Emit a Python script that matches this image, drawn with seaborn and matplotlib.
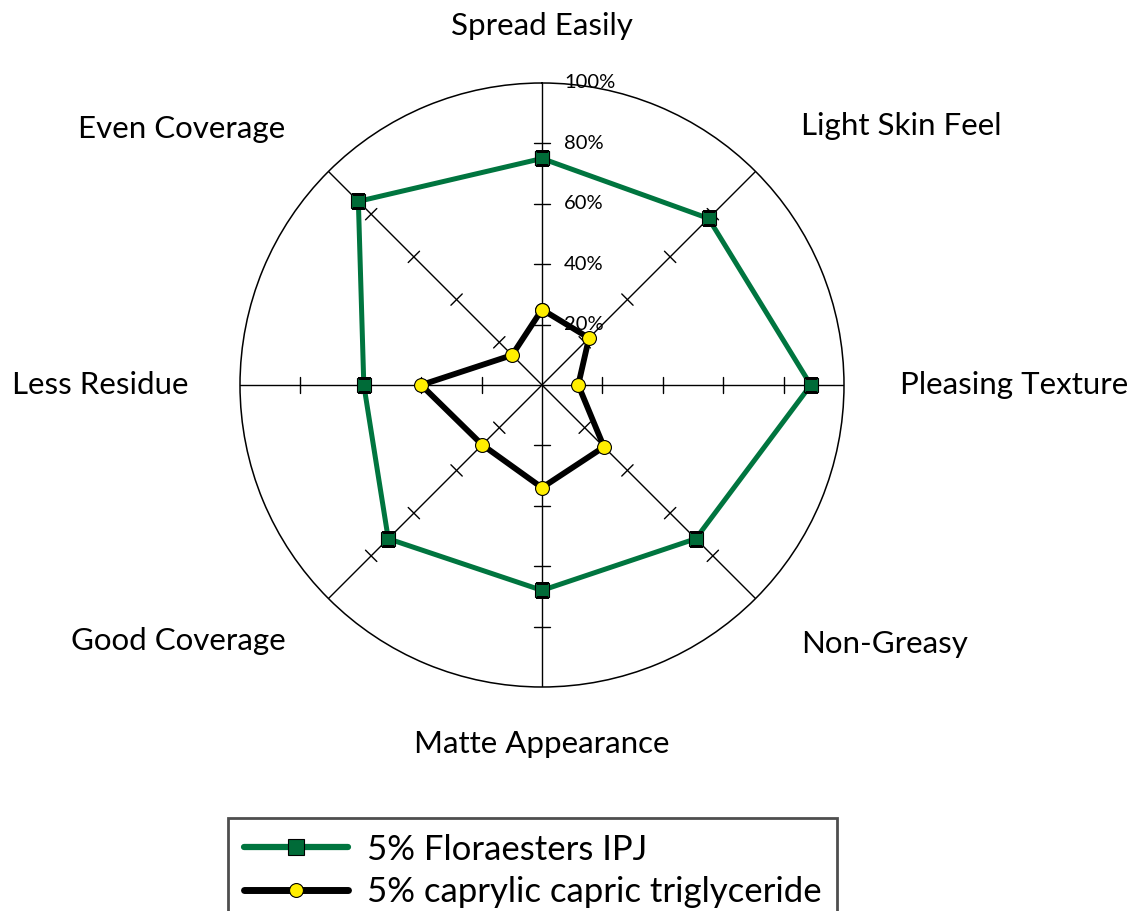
import numpy as np
import pandas as pd
import matplotlib
matplotlib.use("Agg")
import matplotlib.pyplot as plt
import seaborn as sns
from matplotlib.lines import Line2D

# data (percent)
attributes = ["Spread Easily", "Light Skin Feel", "Pleasing Texture", "Non-Greasy",
              "Matte Appearance", "Good Coverage", "Less Residue", "Even Coverage"]
floraesters = [75, 78, 89, 72, 68, 72, 59, 86]
caprylic = [25, 22, 12, 29, 34, 28, 40, 14]
tick_vals = [20, 40, 60, 80, 100]

series_names = ["5% Floraesters IPJ", "5% caprylic capric triglyceride"]
green = "#00753f"

sns.set_theme(style="white")
plt.rcParams["font.family"] = ["Lato", "DejaVu Sans"]
plt.rcParams["text.color"] = "black"

n = len(attributes)
angles = np.arange(n) * 2 * np.pi / n

def closed(vals):
    th = np.append(angles, 2 * np.pi)
    r = np.append(vals, vals[0]) / 100.0
    return pd.DataFrame({"theta": th, "r": r})

fig = plt.figure(figsize=(11.32, 9.11), dpi=100)
cx, cy = 542 / 1132, 1 - 385 / 911
rw, rh = 302 / 1132, 302 / 911
ax = fig.add_axes([cx - rw, cy - rh, 2 * rw, 2 * rh], projection="polar")
ax.set_theta_zero_location("N")
ax.set_theta_direction(-1)
ax.set_ylim(0, 1)
ax.grid(False)
ax.set_xticks([])
ax.set_yticks([])
ax.spines["polar"].set_color("black")
ax.spines["polar"].set_linewidth(1.1)

# spokes and tick marks
h = 8 / 302
for a in angles:
    ax.plot([a, a], [0, 1], color="black", lw=1, zorder=1)
    for t in tick_vals[:-1]:
        r = t / 100
        d = np.arctan(h / r)
        rr = np.hypot(r, h)
        ax.plot([a - d, a + d], [rr, rr], color="black", lw=1, zorder=1)

sns.lineplot(data=closed(floraesters), x="theta", y="r", sort=False, ax=ax,
             color=green, lw=3.6, marker="s", markersize=10,
             markerfacecolor="#006b38", markeredgecolor="black", markeredgewidth=0.8,
             zorder=3)
sns.lineplot(data=closed(caprylic), x="theta", y="r", sort=False, ax=ax,
             color="black", lw=4.2, marker="o", markersize=10,
             markerfacecolor="#ffee00", markeredgecolor="black", markeredgewidth=0.8,
             zorder=4)
ax.set_xlabel("")
ax.set_ylabel("")

# radial tick labels along the top spoke
for t in tick_vals:
    ax.annotate(f"{t}%", xy=(0, t / 100), xytext=(22, 0), textcoords="offset pixels",
                ha="left", va="center", fontsize=14.5, color="black", zorder=5,
                annotation_clip=False)

# category labels
for a, name in zip(angles, attributes):
    s, c = np.sin(a), np.cos(a)
    if abs(s) < 1e-6:
        ha, rad = "center", 1.19
    elif s > 0:
        ha = "left"
        rad = 1.185 if abs(c) < 1e-6 else 1.215
    else:
        ha = "right"
        rad = 1.17 if abs(c) < 1e-6 else 1.2
    ax.text(a, rad, name, ha=ha, va="center", fontsize=22.5, color="black")

handles = [
    Line2D([], [], color=green, lw=4.5, marker="s", markersize=11,
           markerfacecolor="#006b38", markeredgecolor="black", markeredgewidth=0.8),
    Line2D([], [], color="black", lw=5, marker="o", markersize=10,
           markerfacecolor="#ffee00", markeredgecolor="black", markeredgewidth=0.8),
]
leg = fig.legend(handles, series_names, loc="upper left",
                 bbox_to_anchor=(228 / 1132, 1 - 818 / 911), fontsize=25,
                 frameon=True, fancybox=False, edgecolor="#222222",
                 handlelength=3.0, borderpad=0.45, labelspacing=0.3,
                 handletextpad=0.55, borderaxespad=0)
leg.get_frame().set_linewidth(2)
leg.get_frame().set_facecolor("white")
for txt in leg.get_texts():
    txt.set_color("black")

fig.savefig("out.png", dpi=100)
